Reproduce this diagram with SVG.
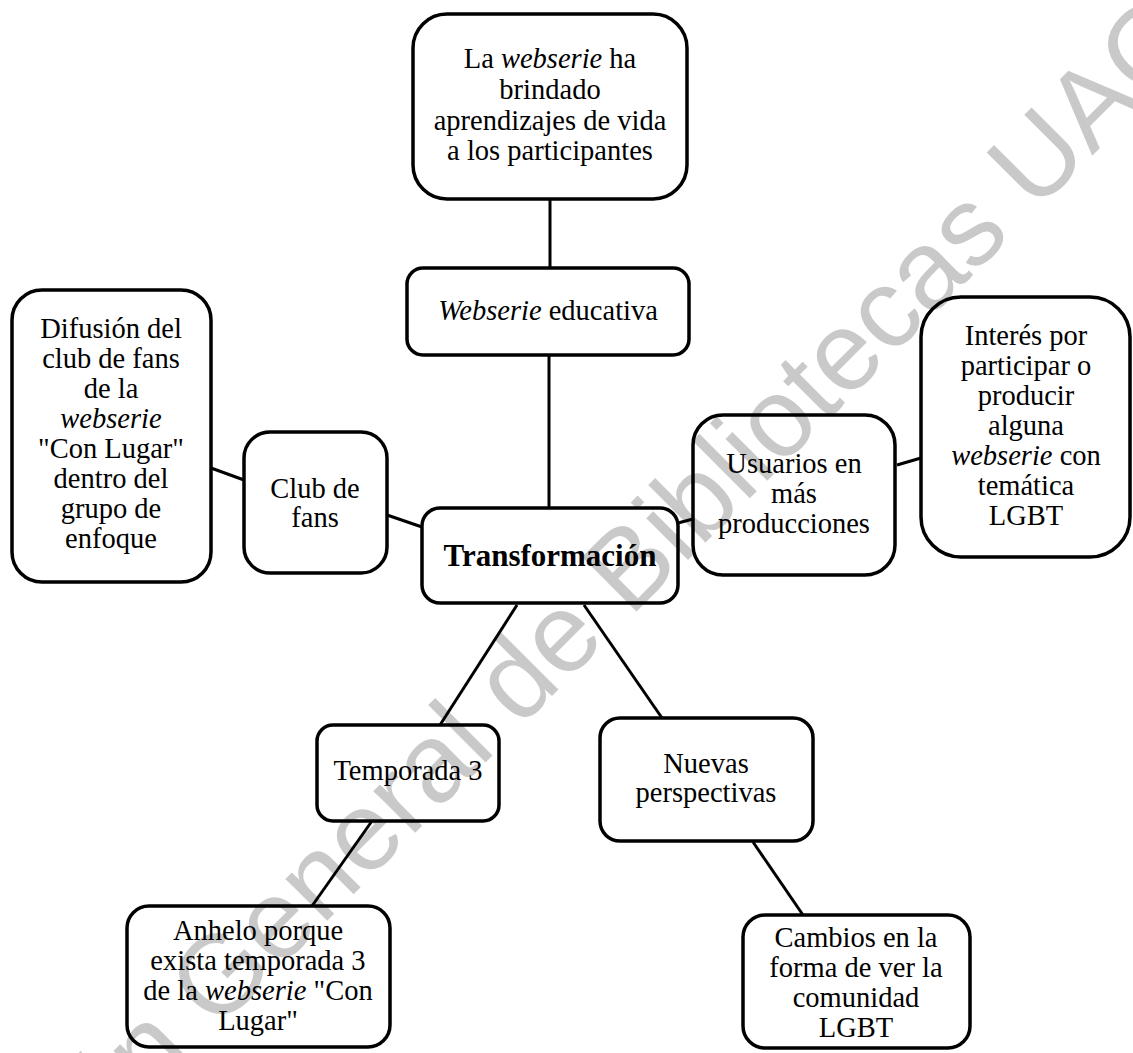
<svg xmlns="http://www.w3.org/2000/svg" width="1133" height="1053" viewBox="0 0 1133 1053">
  <style>
    .box { fill: #ffffff; stroke: #000000; stroke-width: 3.5; }
    .lbl { font-family: "Liberation Serif", "Times New Roman", serif; font-size: 28.5px; fill: #000000; text-anchor: middle; }
    .it { font-style: italic; }
    .hub { font-family: "Liberation Serif", "Times New Roman", serif; font-size: 31px; font-weight: bold; fill: #000000; text-anchor: middle; }
    .edge { stroke: #000000; stroke-width: 3; fill: none; }
    .wm { font-family: "Liberation Sans", Arial, sans-serif; font-size: 112px; fill: #000000; fill-opacity: 0.21; }
  </style>
  <rect width="1133" height="1053" fill="#ffffff"/>

  <!-- connectors -->
  <g id="connectors">
    <line class="edge" x1="550" y1="199" x2="550" y2="268"/>
    <line class="edge" x1="549" y1="355" x2="549" y2="508"/>
    <line class="edge" x1="211" y1="468" x2="244" y2="480"/>
    <line class="edge" x1="387" y1="515" x2="422" y2="527"/>
    <line class="edge" x1="678" y1="523" x2="693" y2="519"/>
    <line class="edge" x1="897" y1="465" x2="921" y2="458"/>
    <line class="edge" x1="517" y1="605" x2="440" y2="725"/>
    <line class="edge" x1="372" y1="821" x2="312" y2="906"/>
    <line class="edge" x1="584" y1="605" x2="662" y2="718"/>
    <line class="edge" x1="753" y1="842" x2="803" y2="915"/>
  </g>

  <!-- nodes -->
  <g id="node-aprendizajes">
    <rect class="box" x="413" y="14" width="274" height="185" rx="34"/>
    <text class="lbl" x="550" y="68">La <tspan class="it">webserie</tspan> ha</text>
    <text class="lbl" x="550" y="99">brindado</text>
    <text class="lbl" x="550" y="130">aprendizajes de vida</text>
    <text class="lbl" x="550" y="160">a los participantes</text>
  </g>

  <g id="node-webserie-educativa">
    <rect class="box" x="407" y="268" width="282" height="87" rx="16"/>
    <text class="lbl" x="548" y="320"><tspan class="it">Webserie</tspan> educativa</text>
  </g>

  <g id="node-transformacion">
    <rect class="box" x="422" y="508" width="256" height="95" rx="18"/>
    <text class="hub" x="550" y="566">Transformación</text>
  </g>

  <g id="node-club-fans">
    <rect class="box" x="244" y="432" width="143" height="141" rx="26"/>
    <text class="lbl" x="315" y="498">Club de</text>
    <text class="lbl" x="315" y="527">fans</text>
  </g>

  <g id="node-difusion">
    <rect class="box" x="12" y="290" width="199" height="292" rx="30"/>
    <text class="lbl" x="111" y="338">Difusión del</text>
    <text class="lbl" x="111" y="368">club de fans</text>
    <text class="lbl" x="111" y="398">de la</text>
    <text class="lbl it" x="111" y="428">webserie</text>
    <text class="lbl" x="111" y="458">"Con Lugar"</text>
    <text class="lbl" x="111" y="488">dentro del</text>
    <text class="lbl" x="111" y="518">grupo de</text>
    <text class="lbl" x="111" y="548">enfoque</text>
  </g>

  <g id="node-usuarios">
    <rect class="box" x="693" y="415" width="202" height="160" rx="30"/>
    <text class="lbl" x="794" y="473">Usuarios en</text>
    <text class="lbl" x="794" y="503">más</text>
    <text class="lbl" x="794" y="533">producciones</text>
  </g>

  <g id="node-interes">
    <rect class="box" x="921" y="297" width="209" height="260" rx="40"/>
    <text class="lbl" x="1026" y="345">Interés por</text>
    <text class="lbl" x="1026" y="375">participar o</text>
    <text class="lbl" x="1026" y="405">producir</text>
    <text class="lbl" x="1026" y="435">alguna</text>
    <text class="lbl" x="1026" y="465"><tspan class="it">webserie</tspan> con</text>
    <text class="lbl" x="1026" y="495">temática</text>
    <text class="lbl" x="1026" y="525">LGBT</text>
  </g>

  <g id="node-temporada">
    <rect class="box" x="317" y="725" width="182" height="96" rx="16"/>
    <text class="lbl" x="408" y="780">Temporada 3</text>
  </g>

  <g id="node-anhelo">
    <rect class="box" x="127" y="906" width="263" height="141" rx="22"/>
    <text class="lbl" x="258" y="940">Anhelo porque</text>
    <text class="lbl" x="258" y="970">exista temporada 3</text>
    <text class="lbl" x="258" y="1000">de la <tspan class="it">webserie</tspan> "Con</text>
    <text class="lbl" x="258" y="1030">Lugar"</text>
  </g>

  <g id="node-nuevas">
    <rect class="box" x="600" y="718" width="213" height="123" rx="20"/>
    <text class="lbl" x="706" y="773">Nuevas</text>
    <text class="lbl" x="706" y="802">perspectivas</text>
  </g>

  <g id="node-cambios">
    <rect class="box" x="743" y="915" width="227" height="133" rx="22"/>
    <text class="lbl" x="856" y="947">Cambios en la</text>
    <text class="lbl" x="856" y="977">forma de ver la</text>
    <text class="lbl" x="856" y="1007">comunidad</text>
    <text class="lbl" x="856" y="1037">LGBT</text>
  </g>

  <!-- library watermark across the page -->
  <text class="wm" transform="translate(-136 1384) rotate(-45)">Dirección General de Bibliotecas UAQ</text>
</svg>
